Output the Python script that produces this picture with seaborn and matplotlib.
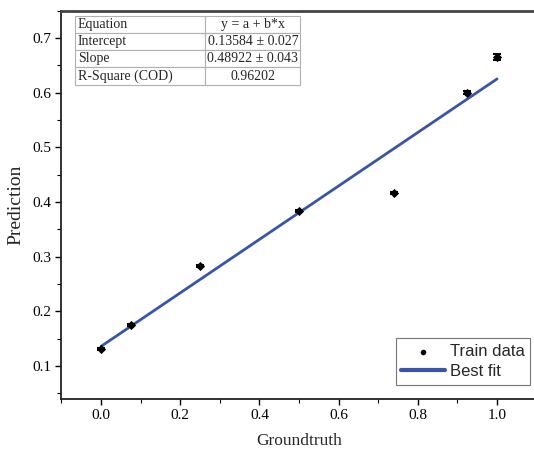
import numpy as np
import pandas as pd
import matplotlib
matplotlib.use("Agg")
import matplotlib.pyplot as plt
import seaborn as sns
from matplotlib.ticker import MultipleLocator, FormatStrFormatter
from matplotlib.markers import MarkerStyle

# Measured points
groundtruth = [0.0, 0.075, 0.25, 0.5, 0.74, 0.925, 1.0]
prediction = [0.131, 0.175, 0.283, 0.383, 0.416, 0.600, 0.665]
pred_err = [0.002, 0.002, 0.002, 0.002, 0.002, 0.003, 0.006]

# Linear fit results
intercept, intercept_err = 0.13584, 0.027
slope, slope_err = 0.48922, 0.043
r_square = 0.96202
fit_x = [0.0, 1.0]

sns.set_theme(style="ticks")
plt.rcParams["font.family"] = ["Liberation Serif", "DejaVu Serif"]

fig = plt.figure(figsize=(5.34, 4.54), dpi=100)
ax = fig.add_axes([0.115, 0.1216, 0.89, 0.855])

df = pd.DataFrame({"Groundtruth": groundtruth, "Prediction": prediction})
fit_df = pd.DataFrame({"x": fit_x,
                       "y": intercept + slope * np.asarray(fit_x)})

ax.errorbar(groundtruth, prediction, yerr=pred_err, fmt="none",
            ecolor="black", elinewidth=2.0, capsize=3, capthick=1.5, zorder=3)
sns.scatterplot(data=df, x="Groundtruth", y="Prediction", ax=ax,
                color="black", marker="D", s=22, linewidth=0,
                label="Train data", zorder=4)
sns.lineplot(data=fit_df, x="x", y="y", ax=ax, color="#3a55a8",
             linewidth=2.0, label="Best fit", zorder=2)

ax.set_xlim(-0.1, 1.1)
ax.set_ylim(0.04, 0.75)
ax.xaxis.set_major_locator(MultipleLocator(0.2))
ax.xaxis.set_minor_locator(MultipleLocator(0.1))
ax.yaxis.set_major_locator(MultipleLocator(0.1))
ax.yaxis.set_minor_locator(MultipleLocator(0.05))
ax.xaxis.set_major_formatter(FormatStrFormatter("%.1f"))
ax.yaxis.set_major_formatter(FormatStrFormatter("%.1f"))

ax.tick_params(axis="both", which="major", direction="out", length=4.5,
               width=1.0, labelsize=11, colors="black", pad=2.5)
ax.tick_params(axis="both", which="minor", direction="out", length=3,
               width=0.8, colors="black")
ax.tick_params(axis="y", which="major", right=True, labelright=False)
ax.tick_params(axis="y", which="minor", right=False)

for side in ["left", "bottom", "top", "right"]:
    ax.spines[side].set_color("#222222")
    ax.spines[side].set_linewidth(1.3)
ax.spines["top"].set_color("#444444")
ax.spines["top"].set_linewidth(2.0)

ax.set_xlabel("Groundtruth", fontsize=12.5, labelpad=8)
ax.set_ylabel("Prediction", fontsize=14, labelpad=6)

ax.set_facecolor("white")
fig.patch.set_facecolor("white")

# Fit statistics table
cells = [["Equation", "y = a + b*x"],
         ["Intercept", f"{intercept:.5f} \u00b1 {intercept_err:.3f}"],
         ["Slope", f"{slope:.5f} \u00b1 {slope_err:.3f}"],
         ["R-Square (COD)", f"{r_square:.5f}"]]
tbl = ax.table(cellText=cells, colWidths=[0.578, 0.422], cellLoc="center",
               bbox=[0.029, 0.809, 0.474, 0.178], zorder=5)
tbl.auto_set_font_size(False)
for (r, c), cell in tbl.get_celld().items():
    cell.set_edgecolor("#b0b0b0")
    cell.set_linewidth(0.8)
    cell.set_facecolor("white")
    cell.get_text().set_fontsize(10)
    cell.get_text().set_fontfamily(["Liberation Serif", "DejaVu Serif"])
    if c == 0:
        cell.get_text().set_ha("left")
        cell.PAD = 0.02

leg = ax.legend(loc="lower right", bbox_to_anchor=(0.987, 0.036),
                borderaxespad=0, frameon=True, fancybox=False, borderpad=0.35,
                handlelength=2.6, handletextpad=0.3, labelspacing=0.3,
                prop={"family": "Liberation Sans", "size": 12})
leg.get_frame().set_edgecolor("#555555")
leg.get_frame().set_linewidth(0.8)
for h in leg.legend_handles:
    if hasattr(h, "set_sizes"):
        h.set_paths([MarkerStyle("o").get_path()])
        h.set_sizes([4])
for ln in leg.get_lines():
    ln.set_linewidth(3.0)

fig.savefig("out.png", dpi=100, facecolor="white")
